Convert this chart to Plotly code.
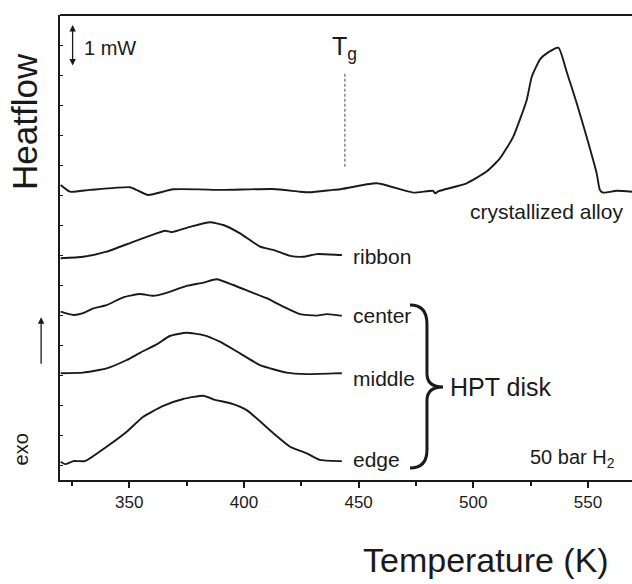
import plotly.graph_objects as go

# Temperature (K) and offset heat-flow (a.u.; tick spacing = 1 unit, 1 mW = 1.4 units)
cryst_T = [320.1, 324.1, 332.9, 350.3, 353.2, 358.3, 369.2, 390.9, 412.7, 424.4, 428.8, 438.8,
           441.9, 457.9, 473.8, 482.5, 483.3, 485.0, 497.1, 505.8, 511.6, 517.4, 523.3, 525.5,
           529.1, 532.0, 537.1, 540.7, 545.1, 549.4, 553.8, 555.2, 556.7, 562.5, 569.2]
cryst_y = [9.83, 9.61, 9.67, 9.76, 9.67, 9.50, 9.69, 9.67, 9.70, 9.61, 9.59, 9.67,
           9.69, 9.89, 9.58, 9.64, 9.56, 9.63, 9.89, 10.28, 10.72, 11.44, 12.67, 13.44,
           14.02, 14.22, 14.41, 13.61, 12.56, 11.44, 10.22, 9.67, 9.58, 9.64, 9.61]

ribbon_T = [320.1, 329.9, 340.1, 351.7, 361.9, 365.6, 368.5, 376.5, 385.2, 391.0, 398.3, 407.0,
            412.8, 420.1, 425.9, 431.7, 441.9, 442.7]
ribbon_y = [7.39, 7.44, 7.61, 7.94, 8.22, 8.31, 8.26, 8.44, 8.59, 8.50, 8.22, 7.78,
            7.67, 7.47, 7.44, 7.53, 7.50, 7.50]

center_T = [320.1, 325.6, 329.9, 334.3, 340.1, 347.4, 354.7, 360.5, 366.3, 375.0, 382.3, 388.1,
            395.3, 402.6, 409.9, 417.1, 424.4, 431.7, 436.1, 441.9, 442.7]
center_y = [5.61, 5.50, 5.56, 5.72, 5.83, 6.09, 6.20, 6.14, 6.24, 6.47, 6.58, 6.69,
            6.50, 6.28, 6.06, 5.78, 5.53, 5.48, 5.53, 5.48, 5.48]

middle_T = [320.1, 329.9, 340.1, 348.9, 354.7, 361.9, 367.7, 375.0, 382.3, 389.5, 398.3, 407.0,
            418.6, 427.4, 441.9, 442.7]
middle_y = [3.56, 3.58, 3.72, 4.00, 4.24, 4.52, 4.80, 4.91, 4.83, 4.61, 4.22, 3.83,
            3.58, 3.53, 3.56, 3.56]

edge_T = [320.1, 322.0, 325.6, 330.7, 340.1, 348.9, 356.1, 364.8, 373.5, 382.3, 386.6, 395.3,
          401.2, 412.8, 420.1, 427.4, 433.1, 441.9, 442.7]
edge_y = [0.61, 0.53, 0.63, 0.63, 1.11, 1.61, 2.11, 2.47, 2.70, 2.81, 2.69, 2.53,
          2.33, 1.56, 1.11, 0.89, 0.67, 0.63, 0.63]

x_ticks = [350, 400, 450, 500, 550]
Tg = 444.0

FONT = "Liberation Sans, Arial, Helvetica, sans-serif"
INK = "#1a1a1a"

fig = go.Figure()
for T, y in [(cryst_T, cryst_y), (ribbon_T, ribbon_y), (center_T, center_y),
             (middle_T, middle_y), (edge_T, edge_y)]:
    fig.add_trace(go.Scatter(x=T, y=y, mode="lines",
                             line=dict(color=INK, width=1.9, shape="spline", smoothing=0.5),
                             showlegend=False, hoverinfo="skip"))

fig.update_layout(
    width=632, height=584,
    margin=dict(l=60, r=0, t=15, b=104),
    paper_bgcolor="white", plot_bgcolor="white",
    font=dict(family=FONT, color=INK),
    xaxis=dict(range=[319.8, 569.2], tickvals=x_ticks, ticks="outside", ticklen=6, tickwidth=1.5,
               tickcolor=INK, showline=True, linecolor=INK, linewidth=2, showgrid=False,
               zeroline=False, tickfont=dict(size=17, family=FONT, color=INK),
               minor=dict(tickvals=[325, 375, 425, 475, 525], ticks="outside", ticklen=4,
                          tickwidth=1.5, tickcolor=INK, showgrid=False)),
    yaxis=dict(range=[0, 15.5], tick0=0.5, dtick=1, ticks="inside", ticklen=3, tickwidth=1,
               tickcolor=INK, showticklabels=False, showline=True, linecolor=INK, linewidth=2,
               showgrid=False, zeroline=False),
)

# top frame line
fig.add_shape(type="line", xref="paper", yref="paper", x0=0, x1=1, y0=1, y1=1,
              line=dict(color=INK, width=2))

# Tg dashed marker
fig.add_shape(type="line", xref="x", yref="y", x0=Tg, x1=Tg, y0=10.44, y1=13.56,
              line=dict(color="#888888", width=1.5, dash="3px,2px"))

# HPT disk brace
brace = ("M 472.4,5.83 Q 479.8,5.83 479.8,5.2 L 479.8,3.55 Q 479.8,3.1 486.8,3.1 "
         "Q 479.8,3.1 479.8,2.65 L 479.8,1.0 Q 479.8,0.4 472.4,0.4")
fig.add_shape(type="path", xref="x", yref="y", path=brace,
              line=dict(color=INK, width=3))

def note(text, x, y, size, xanchor="left", **kw):
    fig.add_annotation(text=text, x=x, y=y, xref=kw.pop("xref", "x"), yref=kw.pop("yref", "y"),
                       showarrow=False, xanchor=xanchor, yanchor="middle",
                       font=dict(size=size, family=FONT, color=INK), **kw)

note("crystallized alloy", 566.1, 8.94, 21, xanchor="right")
note("ribbon", 446.6, 7.45, 21)
note("center", 446.6, 5.5, 21)
note("middle", 446.6, 3.4, 21)
note("edge", 446.6, 0.67, 21)
note("HPT disk", 489.1, 3.11, 25)
note("50 bar H<sub>2</sub>", 524.0, 0.72, 20)
note("1 mW", 329.2, 14.39, 20)
note("T<sub>g</sub>", Tg, 14.4, 25, xanchor="center")

# axis titles
note("Heatflow", -0.063, 0.772, 35, xanchor="center", xref="paper", yref="paper", textangle=-90)
note("Temperature (K)", 0.745, -0.172, 34, xanchor="center", xref="paper", yref="paper")
note("exo", -0.068, 0.066, 20, xanchor="center", xref="paper", yref="paper", textangle=-90)

# 1 mW scale bar (double arrow)
fig.add_annotation(x=325.3, y=15.17, ax=325.3, ay=13.77, xref="x", yref="y", axref="x", ayref="y",
                   text="", showarrow=True, arrowhead=2, startarrowhead=2, arrowside="end+start",
                   arrowsize=1, arrowwidth=1.3, arrowcolor=INK)

# exo arrow
fig.add_annotation(x=-0.033, y=0.35, xref="paper", yref="paper", ax=0, ay=48,
                   text="", showarrow=True, arrowhead=2, arrowsize=1, arrowwidth=1.3,
                   arrowcolor=INK)

fig.write_html("out.html")
